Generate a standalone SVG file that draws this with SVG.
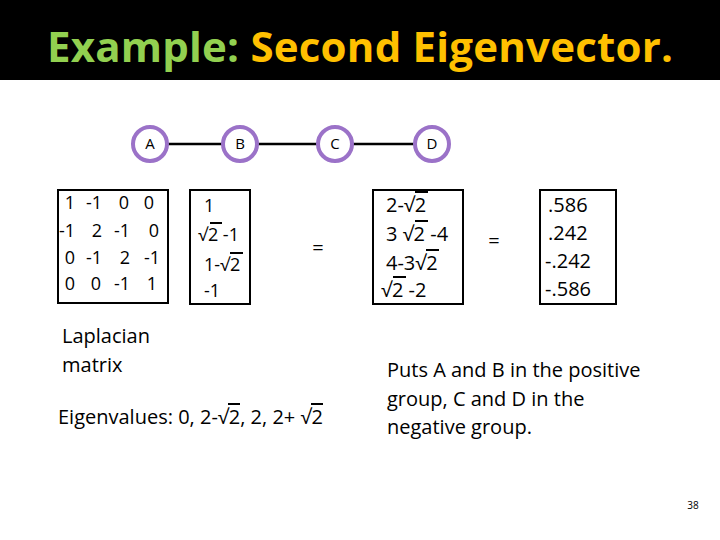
<svg xmlns="http://www.w3.org/2000/svg" width="720" height="540" viewBox="0 0 720 540">
<style>
.n{fill:#fff;stroke:#9b72c8;stroke-width:4}
.nl{font-family:"Open Sans",sans-serif;font-size:15px;text-anchor:middle;fill:#000}
.bx{fill:#fff;stroke:#000;stroke-width:2}
.m{font-family:"Open Sans",sans-serif;font-size:18px;fill:#000}
.t{font-family:"Open Sans",sans-serif;font-size:20px;fill:#000}
</style>
<rect width="720" height="540" fill="#fff"/>
<rect width="720" height="80" fill="#000"/>
<text x="360" y="62" text-anchor="middle" font-family="'Open Sans',sans-serif" font-weight="bold" font-size="42" textLength="626"><tspan fill="#92d050">Example:</tspan><tspan fill="#ffc000"> Second Eigenvector.</tspan></text>
<g id="connectors" stroke="#000" stroke-width="2.5">
<line x1="167" y1="144" x2="223" y2="144"/>
<line x1="257" y1="144" x2="318" y2="144"/>
<line x1="352" y1="144" x2="415" y2="144"/>
</g>
<g id="A"><circle class="n" cx="150" cy="144" r="17"/><text class="nl" x="150" y="149">A</text></g>
<g id="B"><circle class="n" cx="240" cy="144" r="17"/><text class="nl" x="240" y="149">B</text></g>
<g id="C"><circle class="n" cx="335" cy="144" r="17"/><text class="nl" x="335" y="149">C</text></g>
<g id="D"><circle class="n" cx="432" cy="144" r="17"/><text class="nl" x="432" y="149">D</text></g>
<g id="matrix"><rect class="bx" x="58" y="190" width="110" height="113"/>
<g class="m" text-anchor="middle">
<text x="70" y="209">1</text><text x="94" y="209">-1</text><text x="124" y="209">0</text><text x="149" y="209">0</text>
<text x="67" y="237">-1</text><text x="97" y="237">2</text><text x="122" y="237">-1</text><text x="154" y="237">0</text>
<text x="70" y="264">0</text><text x="94" y="264">-1</text><text x="125" y="264">2</text><text x="152" y="264">-1</text>
<text x="70" y="290">0</text><text x="96" y="290">0</text><text x="122" y="290">-1</text><text x="152" y="290">1</text>
</g></g>
<g id="vecB"><rect class="bx" x="190" y="190" width="60" height="114"/>
<text class="m" x="204" y="212">1</text>
<text class="m" x="198" y="241">√2 -1</text>
<text class="m" x="204" y="271">1-√2</text>
<text class="m" x="204" y="297">-1</text>
<g stroke="#000" stroke-width="2"><line x1="210" y1="223" x2="222" y2="223"/><line x1="230" y1="253" x2="243" y2="253"/></g></g>
<text class="t" x="318" y="255" text-anchor="middle">=</text>
<g id="vecD"><rect class="bx" x="373" y="190" width="90" height="114"/>
<text class="t" x="386" y="212">2-√2</text>
<text class="t" x="386" y="241">3 √2 -4</text>
<text class="t" x="386" y="270">4-3√2</text>
<text class="t" x="381" y="297">√2 -2</text>
<g stroke="#000" stroke-width="2"><line x1="415" y1="192" x2="428" y2="192"/><line x1="415" y1="221" x2="428" y2="221"/><line x1="426" y1="250" x2="439" y2="250"/><line x1="393" y1="277" x2="406" y2="277"/></g></g>
<text class="t" x="494" y="248" text-anchor="middle">=</text>
<g id="vecR"><rect class="bx" x="540" y="190" width="76" height="114"/>
<text class="t" x="548" y="212">.586</text>
<text class="t" x="548" y="240">.242</text>
<text class="t" x="545" y="268">-.242</text>
<text class="t" x="545" y="296">-.586</text></g>
<text class="t" x="62" y="343">Laplacian</text>
<text class="t" x="62" y="372">matrix</text>
<text class="t" x="58" y="424">Eigenvalues: 0, 2-√2, 2, 2+ √2</text>
<g stroke="#000" stroke-width="2"><line x1="228" y1="404" x2="240" y2="404"/><line x1="311" y1="404" x2="323" y2="404"/></g>
<text class="t" x="387" y="377">Puts A and B in the positive</text>
<text class="t" x="387" y="406">group, C and D in the</text>
<text class="t" x="387" y="434">negative group.</text>
<text x="693" y="509" font-family="'Open Sans',sans-serif" font-size="10" text-anchor="middle">38</text>
</svg>
